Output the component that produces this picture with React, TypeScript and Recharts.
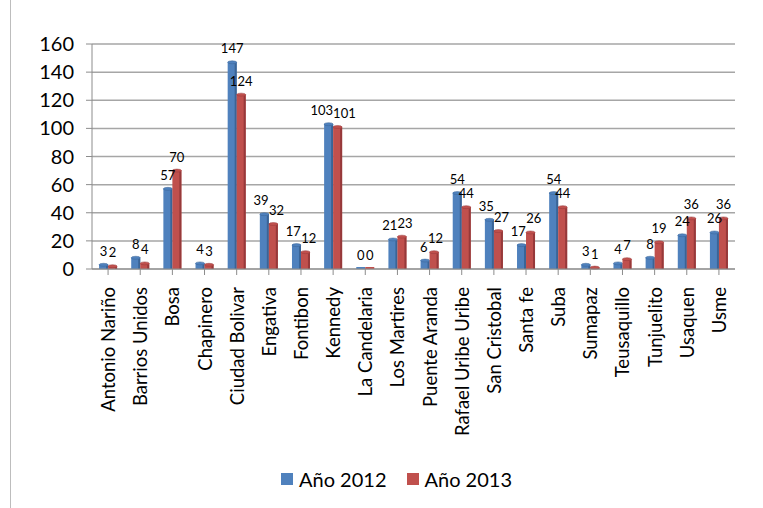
import { Bar, BarChart, CartesianGrid, LabelList, Legend, XAxis, YAxis } from "recharts";

const LOCALIDADES = [
  "Antonio Nariño",
  "Barrios Unidos",
  "Bosa",
  "Chapinero",
  "Ciudad Bolivar",
  "Engativa",
  "Fontibon",
  "Kennedy",
  "La Candelaria",
  "Los Martires",
  "Puente Aranda",
  "Rafael Uribe Uribe",
  "San Cristobal",
  "Santa fe",
  "Suba",
  "Sumapaz",
  "Teusaquillo",
  "Tunjuelito",
  "Usaquen",
  "Usme",
];

const ANIO_2012 = [3, 8, 57, 4, 147, 39, 17, 103, 0, 21, 6, 54, 35, 17, 54, 3, 4, 8, 24, 26];
const ANIO_2013 = [2, 4, 70, 3, 124, 32, 12, 101, 0, 23, 12, 44, 27, 26, 44, 1, 7, 19, 36, 36];

const Y_TICKS = [0, 20, 40, 60, 80, 100, 120, 140, 160];

const SERIES = [
  { key: "a2012", name: "Año 2012", color: "#4f81bd", dark: "#3a6496" },
  { key: "a2013", name: "Año 2013", color: "#c0504d", dark: "#96393a" },
];

const data = LOCALIDADES.map((name, i) => ({
  name,
  a2012: ANIO_2012[i],
  a2013: ANIO_2013[i],
}));

const FONT = "Lato, 'Open Sans', sans-serif";
const PX_PER_UNIT = 226 / 160;

const CategoryTick = ({ x, y, payload }: any) => (
  <text
    x={x}
    y={y + 10}
    transform={`rotate(-90 ${x} ${y + 10})`}
    textAnchor="end"
    dominantBaseline="central"
    fontSize={18.5}
    fontFamily={FONT}
    fill="#000"
  >
    {payload.value}
  </text>
);

const Cylinder = ({ x, y, width, height, fill, dark }: any) => {
  if (height <= 0) {
    return <rect x={x} y={y - 2} width={width} height={2} fill={fill} />;
  }
  return (
    <g>
      <rect x={x} y={y} width={width} height={height} fill={fill} />
      <rect x={x + width - 2} y={y} width={2} height={height} fill={dark} />
      <ellipse cx={x + width / 2} cy={y} rx={width / 2} ry={1.5} fill={fill} stroke={dark} strokeWidth={0.5} />
    </g>
  );
};

// value labels; when the pair of labels would collide, push them apart sideways
const makeLabel = (side: number) => (props: any) => {
  const { x, y, width, value, index } = props;
  const a = String(ANIO_2012[index]);
  const b = String(ANIO_2013[index]);
  const dy = Math.abs(ANIO_2012[index] - ANIO_2013[index]) * PX_PER_UNIT;
  let shift = 0;
  if (dy < 13) {
    const need = ((a.length + b.length) * 7.2) / 2 + 1 - width;
    if (need > 0) shift = (need / 2) * side;
  }
  return (
    <text
      x={x + width / 2 + shift}
      y={y - 9}
      textAnchor="middle"
      fontSize={13}
      fontFamily={FONT}
      fill="#000"
    >
      {value}
    </text>
  );
};

const LegendContent = () => (
  <div
    style={{
      display: "flex",
      justifyContent: "center",
      paddingLeft: 28,
      fontFamily: FONT,
      fontSize: 20,
      color: "#000",
    }}
  >
    {SERIES.map((s) => (
      <div key={s.key} style={{ display: "flex", alignItems: "center", margin: "0 10px" }}>
        <span style={{ width: 12, height: 12, background: s.color, marginRight: 6, display: "inline-block" }} />
        <span>{s.name}</span>
      </div>
    ))}
  </div>
);

const App = () => {
  return (
    <div style={{ position: "absolute", left: 0, top: 0, width: 763, height: 508, background: "#fff" }}>
      <div
        style={{
          position: "absolute",
          left: 10,
          top: -2,
          width: 760,
          height: 515,
          border: "1px solid #bdbdbd",
        }}
      />
      <BarChart
        width={763}
        height={508}
        data={data}
        margin={{ top: 44, right: 28, left: 30, bottom: 17 }}
        barGap={0}
        barCategoryGap="22%"
      >
        <CartesianGrid vertical={false} stroke="#a6a6a6" strokeWidth={1.5} />
        <XAxis
          dataKey="name"
          interval={0}
          height={198}
          tick={<CategoryTick />}
          tickLine={{ stroke: "#8c8c8c" }}
          axisLine={{ stroke: "#8c8c8c" }}
        />
        <YAxis
          width={62}
          domain={[0, 160]}
          ticks={Y_TICKS}
          tickMargin={12}
          tick={{ fontSize: 20, fontFamily: FONT, fill: "#000" }}
          tickLine={{ stroke: "#8c8c8c" }}
          axisLine={{ stroke: "#8c8c8c" }}
        />
        <Legend verticalAlign="bottom" content={<LegendContent />} />
        {SERIES.map((s, si) => (
          <Bar
            key={s.key}
            dataKey={s.key}
            name={s.name}
            fill={s.color}
            isAnimationActive={false}
            shape={(p: any) => <Cylinder {...p} fill={s.color} dark={s.dark} />}
          >
            <LabelList dataKey={s.key} content={makeLabel(si === 0 ? -1 : 1)} />
          </Bar>
        ))}
      </BarChart>
    </div>
  );
};

export default App;
